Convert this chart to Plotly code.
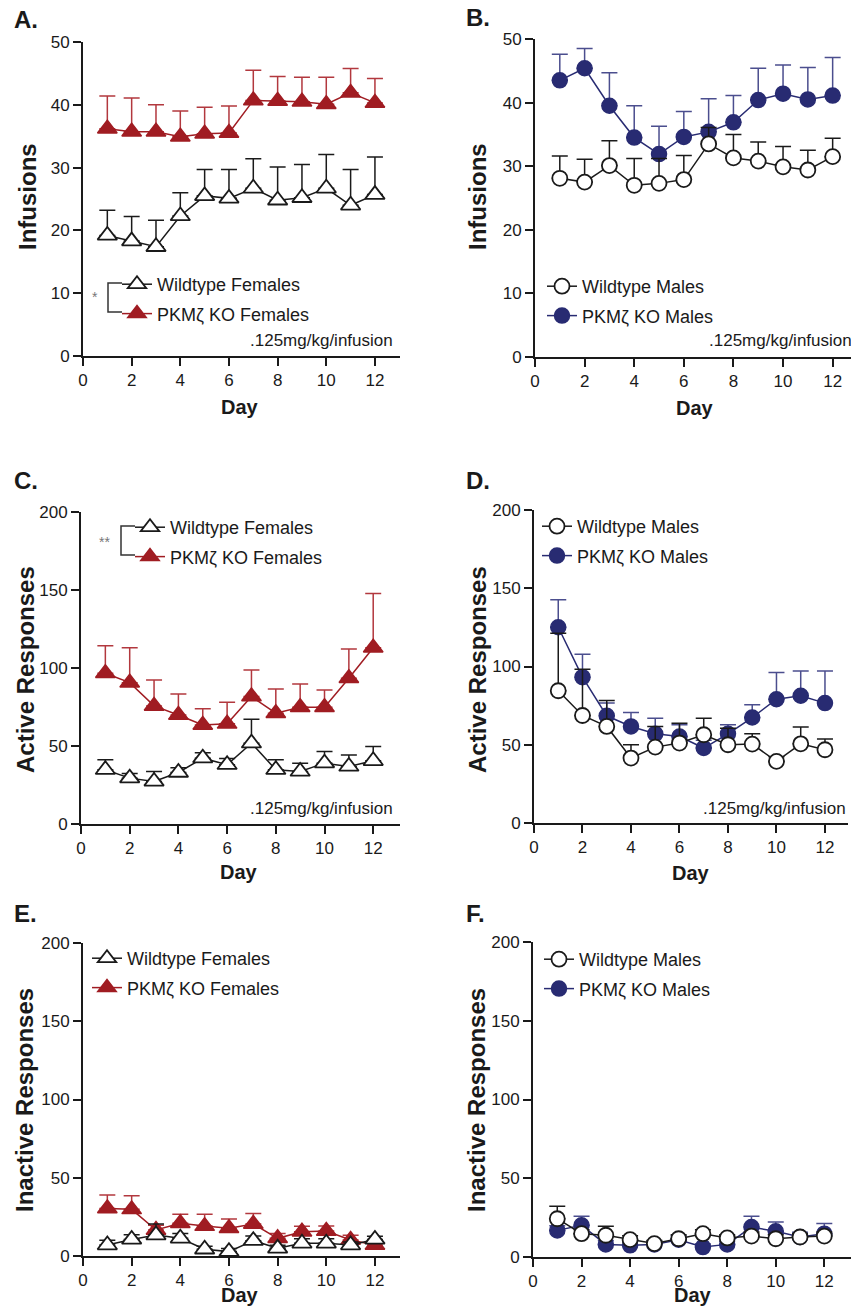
import plotly.graph_objects as go

W, H = 851, 1309

days = list(range(1, 13))

# Panel A - Infusions, females
A_wt = [19.2, 18.3, 17.4, 22.3, 25.5, 25.1, 26.7, 24.8, 25.2, 26.7, 24.0, 25.7]
A_wt_err = [4.0, 3.9, 4.2, 3.7, 4.2, 4.6, 4.7, 5.3, 5.3, 5.4, 5.7, 6.0]
A_ko = [36.2, 35.7, 35.7, 34.9, 35.4, 35.5, 40.7, 40.6, 40.5, 40.1, 41.9, 40.3]
A_ko_err = [5.2, 5.4, 4.3, 4.1, 4.2, 4.3, 4.8, 3.9, 3.9, 4.3, 3.9, 3.9]

# Panel B - Infusions, males
B_wt = [28.1, 27.5, 30.1, 27.0, 27.3, 27.9, 33.5, 31.3, 30.8, 29.9, 29.4, 31.5]
B_wt_err = [3.5, 3.6, 3.9, 4.2, 3.9, 3.8, 2.6, 3.7, 3.0, 3.2, 3.1, 2.9]
B_ko = [43.5, 45.4, 39.5, 34.5, 31.9, 34.6, 35.4, 36.9, 40.4, 41.4, 40.5, 41.1]
B_ko_err = [4.1, 3.1, 5.2, 5.0, 4.4, 4.0, 5.2, 4.2, 5.0, 4.5, 5.0, 6.0]

# Panel C - Active responses, females
C_wt = [34.8, 29.4, 27.3, 33.0, 42.2, 38.0, 51.8, 34.8, 33.7, 39.0, 36.9, 40.5]
C_wt_err = [6.4, 3.0, 6.4, 3.0, 3.5, 4.0, 15.4, 6.4, 5.3, 7.5, 7.4, 9.2]
C_ko = [96.6, 90.6, 75.7, 69.9, 63.5, 64.2, 81.7, 71.0, 74.8, 74.8, 93.4, 113.0]
C_ko_err = [17.7, 22.4, 16.6, 13.5, 10.3, 13.8, 17.0, 15.6, 15.0, 11.1, 18.8, 34.8]

# Panel D - Active responses, males
D_wt = [84.5, 68.7, 61.7, 41.5, 48.5, 51.1, 56.4, 50.0, 50.4, 39.4, 50.6, 46.8]
D_wt_err = [36.8, 29.6, 16.6, 8.5, 13.2, 12.7, 10.6, 10.6, 6.6, 3.0, 10.7, 6.8]
D_ko = [125.1, 93.2, 68.5, 61.7, 57.0, 55.3, 47.9, 57.0, 67.4, 79.1, 81.3, 76.6]
D_ko_err = [17.5, 14.7, 8.1, 8.9, 10.0, 7.5, 5.0, 5.8, 8.1, 17.1, 15.9, 20.6]

# Panel E - Inactive responses, females
E_wt = [7.0, 10.6, 13.4, 11.3, 4.3, 2.8, 9.8, 4.9, 8.1, 8.1, 7.0, 10.6]
E_wt_err = [3.0, 3.0, 7.0, 3.0, 2.0, 2.0, 3.0, 2.0, 3.0, 3.0, 2.0, 2.0]
E_ko = [30.4, 29.8, 16.6, 20.9, 19.1, 17.7, 20.4, 11.3, 15.5, 16.0, 10.2, 7.0]
E_ko_err = [8.5, 8.7, 3.0, 5.7, 7.5, 5.9, 6.8, 3.0, 3.5, 3.1, 3.0, 2.0]

# Panel F - Inactive responses, males
F_wt = [24.3, 14.8, 13.8, 11.0, 8.5, 11.6, 14.8, 12.1, 13.3, 11.6, 12.7, 13.3]
F_wt_err = [7.9, 2.5, 5.7, 2.5, 2.0, 2.5, 2.5, 2.0, 2.5, 2.5, 2.0, 2.5]
F_ko = [16.9, 20.1, 8.0, 7.4, 8.0, 11.0, 6.3, 8.0, 19.0, 16.3, 12.7, 14.8]
F_ko_err = [3.0, 5.7, 2.5, 2.5, 2.0, 2.5, 2.0, 2.0, 6.8, 5.9, 3.0, 6.4]

panel_letters = ["A.", "B.", "C.", "D.", "E.", "F."]
y_titles = ["Infusions", "Infusions", "Active Responses", "Active Responses",
            "Inactive Responses", "Inactive Responses"]
x_title = "Day"
dose_text = ".125mg/kg/infusion"
wt_names = ["Wildtype Females", "Wildtype Males"]
ko_names = ["PKMζ KO Females", "PKMζ KO Males"]
x_ticks = [0, 2, 4, 6, 8, 10, 12]

RED = "#a01c22"
RED_ERR = "#b2383e"
NAVY = "#282b72"
NAVY_ERR = "#4b4e8e"
INK = "#1a1a1a"
FONT = "Arial, Liberation Sans, Helvetica, sans-serif"

def px(x):
    return x / W

def py(y):
    return 1 - y / H

# layout geometry (pixels)
panels = [
    dict(wt=A_wt, wte=A_wt_err, ko=A_ko, koe=A_ko_err, sex=0, x0=83, x1=400, xmax=13.03,
         ytop=42, ybot=356, ymax=50, dy=10, leg=(117, 266), dose=(395, 341), letter=(12, 20),
         ytitle=(27, 197), xtitle=(240, 407)),
    dict(wt=B_wt, wte=B_wt_err, ko=B_ko, koe=B_ko_err, sex=1, x0=535, x1=851, xmax=12.74,
         ytop=39, ybot=357, ymax=50, dy=10, leg=(542, 268), dose=(707, 341), letter=(464, 18),
         ytitle=(477, 197), xtitle=(695, 408)),
    dict(wt=C_wt, wte=C_wt_err, ko=C_ko, koe=C_ko_err, sex=0, x0=81, x1=400, xmax=13.1,
         ytop=512, ybot=824, ymax=200, dy=50, leg=(130, 509), dose=(395, 808), letter=(12, 481),
         ytitle=(25, 670), xtitle=(239, 872)),
    dict(wt=D_wt, wte=D_wt_err, ko=D_ko, koe=D_ko_err, sex=1, x0=534, x1=848, xmax=12.95,
         ytop=510, ybot=823, ymax=200, dy=50, leg=(537, 508), dose=(848, 808), letter=(464, 481),
         ytitle=(477, 670), xtitle=(691, 873)),
    dict(wt=E_wt, wte=E_wt_err, ko=E_ko, koe=E_ko_err, sex=0, x0=83, x1=400, xmax=13.03,
         ytop=943, ybot=1256, ymax=200, dy=50, leg=(87, 940), dose=None, letter=(12, 913),
         ytitle=(24, 1100), xtitle=(240, 1295)),
    dict(wt=F_wt, wte=F_wt_err, ko=F_ko, koe=F_ko_err, sex=1, x0=533, x1=851, xmax=13.1,
         ytop=942, ybot=1257, ymax=200, dy=50, leg=(539, 941), dose=None, letter=(464, 913),
         ytitle=(476, 1100), xtitle=(693, 1295)),
]

fig = go.Figure()
annotations = []
shapes = []
layout_extra = {}

for i, p in enumerate(panels):
    k = i + 1
    xa = "x" if k == 1 else f"x{k}"
    ya = "y" if k == 1 else f"y{k}"
    leg = "legend" if k == 1 else f"legend{k}"
    female = p["sex"] == 0
    ko_col = RED if female else NAVY
    ko_err = RED_ERR if female else NAVY_ERR
    sym = "triangle-up" if female else "circle"
    msize = 17 if female else 15

    # KO group first (drawn underneath wildtype)
    fig.add_trace(go.Scatter(
        x=days, y=p["ko"], mode="lines+markers", name=ko_names[p["sex"]],
        xaxis=xa, yaxis=ya, legend=leg, legendgroup=f"ko{k}", legendrank=2,
        line=dict(color=ko_col, width=1.5),
        marker=dict(symbol=sym, size=msize, color=ko_col, line=dict(color=ko_col, width=1.5)),
        error_y=dict(type="data", symmetric=False, array=p["koe"], arrayminus=[0] * len(days),
                     color=ko_err, thickness=1.5, width=8),
        cliponaxis=False, hoverinfo="x+y",
    ))
    fig.add_trace(go.Scatter(
        x=days, y=p["wt"], mode="lines+markers", name=wt_names[p["sex"]],
        xaxis=xa, yaxis=ya, legend=leg, legendgroup=f"wt{k}", legendrank=1,
        line=dict(color=INK, width=1.5),
        marker=dict(symbol=sym, size=msize, color="white", line=dict(color=INK, width=1.8)),
        error_y=dict(type="data", symmetric=False, array=p["wte"], arrayminus=[0] * len(days),
                     color=INK, thickness=1.5, width=8),
        cliponaxis=False, hoverinfo="x+y",
    ))

    axis_common = dict(showline=True, linewidth=2, linecolor=INK, ticks="outside",
                       ticklen=8, tickwidth=2, tickcolor=INK, showgrid=False, zeroline=False,
                       automargin=False,
                       tickfont=dict(family=FONT, size=17, color=INK), fixedrange=True)
    layout_extra["xaxis" if k == 1 else f"xaxis{k}"] = dict(
        axis_common, domain=[px(p["x0"]), min(1.0, px(p["x1"]))], range=[0, p["xmax"]],
        tickvals=x_ticks, anchor=ya,
    )
    layout_extra["yaxis" if k == 1 else f"yaxis{k}"] = dict(
        axis_common, domain=[py(p["ybot"]), py(p["ytop"])], range=[0, p["ymax"]],
        dtick=p["dy"], anchor=xa,
    )
    layout_extra[leg] = dict(
        x=px(p["leg"][0]), y=py(p["leg"][1]), xanchor="left", yanchor="top",
        bgcolor="rgba(0,0,0,0)", font=dict(family=FONT, size=18, color=INK),
        traceorder="grouped", tracegroupgap=3, itemwidth=30,
    )

    # axis titles
    tx, ty = p["ytitle"]
    annotations.append(dict(text=f"<b>{y_titles[i]}</b>", x=px(tx), y=py(ty), xref="paper",
                            yref="paper", xanchor="center", yanchor="middle", textangle=-90,
                            showarrow=False, font=dict(family=FONT, size=24, color=INK)))
    tx, ty = p["xtitle"]
    annotations.append(dict(text=f"<b>{x_title}</b>", x=px(tx), y=py(ty), xref="paper",
                            yref="paper", xanchor="center", yanchor="middle",
                            showarrow=False, font=dict(family=FONT, size=20, color=INK)))

    lx, ly = p["letter"]
    annotations.append(dict(text=f"<b>{panel_letters[i]}</b>", x=px(lx), y=py(ly),
                            xref="paper", yref="paper", xanchor="left", yanchor="middle",
                            showarrow=False, font=dict(family=FONT, size=24, color=INK)))
    if p["dose"] is not None:
        dx, dyy = p["dose"]
        anchor = "left" if k == 2 else "right"
        annotations.append(dict(text=dose_text, x=px(dx), y=py(dyy), xref="paper", yref="paper",
                                xanchor=anchor, yanchor="middle", showarrow=False,
                                font=dict(family=FONT, size=17, color=INK)))

# significance brackets
def bracket(xv, ytop, ybot, xend, label, lx, lyy):
    shapes.append(dict(type="path", xref="paper", yref="paper",
                       path=f"M {px(xend)},{py(ytop)} L {px(xv)},{py(ytop)} L {px(xv)},{py(ybot)} L {px(xend)},{py(ybot)}",
                       line=dict(color="#333333", width=1.5)))
    annotations.append(dict(text=label, x=px(lx), y=py(lyy), xref="paper", yref="paper",
                            xanchor="center", yanchor="middle", showarrow=False,
                            font=dict(family=FONT, size=14, color="#777777")))

bracket(108, 283, 312, 122, "*", 95, 297)
bracket(121, 526, 555, 135, "**", 104, 542)

fig.update_layout(
    width=W, height=H, margin=dict(l=0, r=0, t=0, b=0, autoexpand=False),
    paper_bgcolor="white", plot_bgcolor="white",
    font=dict(family=FONT, color=INK),
    showlegend=True, annotations=annotations, shapes=shapes,
    **layout_extra,
)

fig.write_html("out.html", config={"displayModeBar": False},
               post_script="document.body.style.margin='0px';document.body.style.overflow='hidden';")
